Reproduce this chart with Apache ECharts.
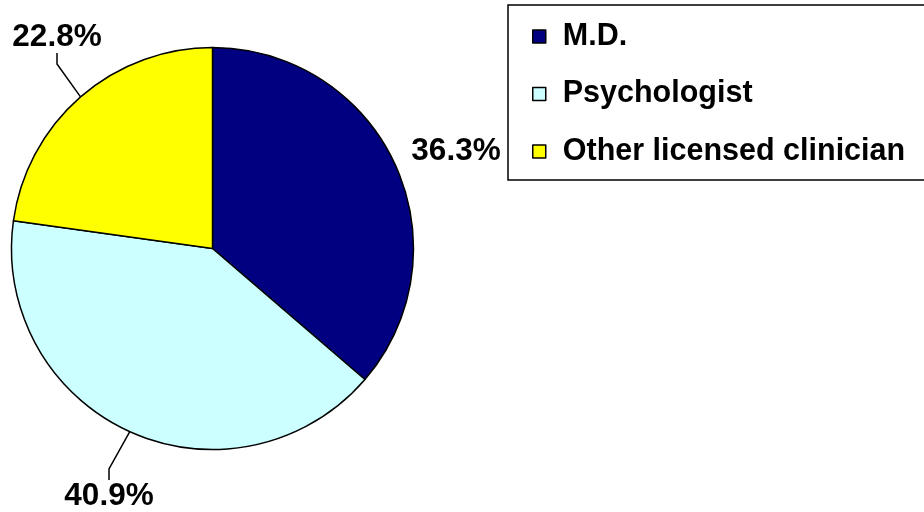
<!DOCTYPE html>
<html>
<head>
<meta charset="utf-8">
<script src="https://cdn.jsdelivr.net/npm/echarts@6/dist/echarts.min.js"></script>
<style>
  html, body { margin: 0; padding: 0; background: #fff; }
  #pieChart { width: 924px; height: 512px; }
</style>
</head>
<body>
<div id="pieChart"></div>
<script>
  // clinician type shares (%), clockwise from 12 o'clock
  const categories = ['M.D.', 'Psychologist', 'Other licensed clinician'];
  const shares = [36.3, 40.9, 22.8];
  const colors = ['#000080', '#CCFFFF', '#FFFF00'];

  const pieChart = echarts.init(document.getElementById('pieChart'));

  // where each percentage label sits (label centre)
  const labelSpots = [[456, 151], [109, 496], [57, 37]];

  const option = {
    backgroundColor: '#fff',
    animation: false,
    legend: {
      orient: 'vertical',
      left: 508,
      top: 5,
      padding: [16, 70, 13, 24],
      itemGap: 26.5,
      itemWidth: 13,
      itemHeight: 13,
      icon: 'rect',
      borderColor: '#000',
      borderWidth: 1.5,
      itemStyle: {
        borderColor: '#000',
        borderWidth: 1.5
      },
      textStyle: {
        fontFamily: 'Liberation Sans, Arial, sans-serif',
        fontWeight: 'bold',
        fontSize: 30.5,
        lineHeight: 30,
        color: '#000',
        padding: [0, 0, 0, 12]
      },
      data: categories
    },
    series: [{
      type: 'pie',
      center: [212.5, 248.5],
      radius: 201,
      startAngle: 90,
      clockwise: true,
      avoidLabelOverlap: false,
      itemStyle: {
        borderColor: '#000',
        borderWidth: 1.5
      },
      label: {
        show: true,
        position: 'outside',
        formatter: function (p) { return p.value.toFixed(1) + '%'; },
        fontFamily: 'Liberation Sans, Arial, sans-serif',
        fontWeight: 'bold',
        fontSize: 31.5,
        lineHeight: 30,
        color: '#000'
      },
      labelLine: {
        show: true,
        length: 20,
        length2: 11,
        lineStyle: { color: '#000', width: 1.5 }
      },
      labelLayout: function (params) {
        const spot = labelSpots[params.dataIndex];
        return {
          x: spot[0],
          y: spot[1],
          align: 'center',
          verticalAlign: 'middle',
          hideOverlap: false
        };
      },
      emphasis: { disabled: true },
      data: categories.map(function (name, i) {
        const item = {
          name: name,
          value: shares[i],
          itemStyle: { color: colors[i] }
        };
        if (i === 0) item.labelLine = { show: false };
        return item;
      })
    }]
  };

  pieChart.setOption(option);
</script>
</body>
</html>
